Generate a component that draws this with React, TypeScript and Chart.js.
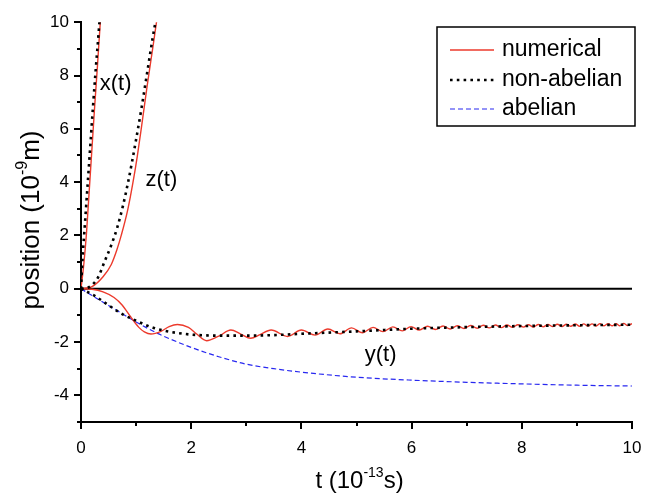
import { useEffect, useRef } from 'react';
import { Chart, registerables } from 'chart.js';

Chart.register(...registerables);

const FONT = '"Liberation Sans", Arial, Helvetica, sans-serif';

// t (10^-13 s) , position (10^-9 m)
const numericalX: [number, number][] = [
  [0, 0], [0.05, 0.9], [0.1, 2.1], [0.15, 3.7], [0.2, 5.3], [0.25, 6.9], [0.3, 8.4], [0.35, 10.0], [0.4, 11.5],
];
const numericalZ: [number, number][] = [
  [0, 0], [0.2, 0.08], [0.4, 0.45], [0.55, 0.91], [0.65, 1.45], [0.73, 2.0], [0.85, 2.98], [0.94, 3.95],
  [1.02, 4.95], [1.1, 6.1], [1.2, 7.6], [1.3, 9.0], [1.37, 10.0], [1.45, 11.1],
];
const numericalY: [number, number][] = [
  [0, 0], [0.2, -0.02], [0.4, -0.12], [0.6, -0.33], [0.75, -0.62], [0.9, -1.05], [1.05, -1.45], [1.15, -1.62],
  [1.27, -1.7], [1.45, -1.6], [1.6, -1.42], [1.75, -1.34], [1.95, -1.45], [2.1, -1.7], [2.28, -1.95],
  [2.5, -1.78], [2.72, -1.55], [2.9, -1.7], [3.08, -1.86], [3.25, -1.72], [3.45, -1.55], [3.75, -1.79],
  [4.0, -1.55], [4.25, -1.74], [4.48, -1.51], [4.7, -1.69], [4.91, -1.47], [5.11, -1.65], [5.3, -1.45],
  [5.48, -1.61], [5.66, -1.43], [5.83, -1.58], [5.99, -1.42], [6.14, -1.55], [6.29, -1.41], [6.43, -1.53],
  [6.57, -1.4], [6.7, -1.51], [6.83, -1.39], [6.95, -1.49], [7.07, -1.38], [7.19, -1.48], [7.3, -1.37],
  [7.41, -1.47], [7.52, -1.36], [7.63, -1.46], [7.73, -1.36], [7.83, -1.45], [7.93, -1.35], [8.03, -1.44],
  [8.12, -1.35], [8.21, -1.44], [8.3, -1.34], [8.39, -1.43], [8.475, -1.34], [8.56, -1.42], [8.645, -1.33],
  [8.73, -1.42], [8.81, -1.33], [8.89, -1.41], [8.97, -1.32], [9.05, -1.41], [9.125, -1.32], [9.2, -1.4],
  [9.275, -1.32], [9.35, -1.4], [9.42, -1.31], [9.49, -1.39], [9.565, -1.31], [9.64, -1.39], [9.71, -1.31],
  [9.78, -1.39], [9.85, -1.3], [9.92, -1.38], [10, -1.31],
];
const nonAbelianX: [number, number][] = [
  [0, 0], [0.03, 1.2], [0.07, 2.4], [0.12, 3.9], [0.17, 5.4], [0.22, 6.9], [0.27, 8.3], [0.32, 9.6], [0.36, 10.7],
];
const nonAbelianZ: [number, number][] = [
  [0, 0], [0.1, 0.02], [0.19, 0.12], [0.31, 0.43], [0.43, 1.03], [0.55, 1.64], [0.66, 2.31], [0.76, 3.1],
  [0.85, 3.95], [0.93, 4.8], [1.0, 5.6], [1.1, 6.8], [1.2, 8.1], [1.3, 9.4], [1.35, 10.0], [1.42, 10.9],
];
const nonAbelianY: [number, number][] = [
  [0, 0], [0.25, -0.27], [0.5, -0.62], [0.75, -0.95], [1.0, -1.2], [1.25, -1.42], [1.5, -1.57], [1.75, -1.66],
  [2.0, -1.72], [2.5, -1.76], [3.0, -1.76], [3.5, -1.74], [4.0, -1.69], [5.0, -1.6], [6.0, -1.5], [7.0, -1.44],
  [8.0, -1.4], [9.0, -1.37], [10, -1.35],
];
const abelianY: [number, number][] = [
  [0, 0], [0.25, -0.32], [0.5, -0.63], [0.75, -0.94], [1.0, -1.25], [1.25, -1.53], [1.5, -1.78], [2.0, -2.2],
  [2.5, -2.55], [3.0, -2.83], [3.5, -3.0], [4.0, -3.13], [5.0, -3.32], [6.0, -3.43], [7.0, -3.51], [8.0, -3.57],
  [9.0, -3.62], [10, -3.65],
];

const legendLabels = ['numerical', 'non-abelian', 'abelian'];
const curveLabels: { text: string; t: number; v: number }[] = [
  { text: 'x(t)', t: 0.34, v: 7.7 },
  { text: 'z(t)', t: 1.17, v: 4.1 },
  { text: 'y(t)', t: 5.15, v: -2.48 },
];

const RED = 'rgb(236,58,44)';
const BLACK = '#000';
const BLUE = 'rgb(40,40,240)';

const toXY = (arr: [number, number][]) => arr.map(([x, y]) => ({ x, y }));

function drawParts(ctx: CanvasRenderingContext2D, parts: { t: string; sup: boolean }[], size: number) {
  const supSize = Math.round(size * 0.6);
  let w = 0;
  for (const p of parts) {
    ctx.font = `${p.sup ? supSize : size}px ${FONT}`;
    w += ctx.measureText(p.t).width;
  }
  let x = -w / 2;
  ctx.textAlign = 'left';
  ctx.textBaseline = 'alphabetic';
  for (const p of parts) {
    ctx.font = `${p.sup ? supSize : size}px ${FONT}`;
    ctx.fillText(p.t, x, p.sup ? -size * 0.45 : 0);
    x += ctx.measureText(p.t).width;
  }
}

const decorPlugin = {
  id: 'decor',
  beforeDatasetsDraw(chart: any) {
    const { ctx, chartArea, scales } = chart;
    const y0 = scales.y.getPixelForValue(0);
    ctx.save();
    ctx.strokeStyle = '#000';
    ctx.lineWidth = 2;
    ctx.beginPath();
    ctx.moveTo(chartArea.left, y0);
    ctx.lineTo(chartArea.right, y0);
    ctx.stroke();
    ctx.restore();
  },
  afterDraw(chart: any) {
    const { ctx, chartArea, scales } = chart;
    ctx.save();
    ctx.strokeStyle = '#000';
    ctx.fillStyle = '#000';
    ctx.lineWidth = 2;
    // tick marks
    ctx.beginPath();
    for (let v = -5; v <= 10; v++) {
      const py = Math.round(scales.y.getPixelForValue(v));
      const len = v % 2 === 0 ? 7 : 4;
      ctx.moveTo(chartArea.left, py);
      ctx.lineTo(chartArea.left - len, py);
    }
    for (let v = 0; v <= 10; v++) {
      const px = Math.round(scales.x.getPixelForValue(v));
      const len = v % 2 === 0 ? 7 : 4;
      ctx.moveTo(px, chartArea.bottom);
      ctx.lineTo(px, chartArea.bottom + len);
    }
    ctx.stroke();

    // axis titles
    ctx.save();
    ctx.translate((chartArea.left + chartArea.right) / 2 + 3, 488);
    drawParts(ctx, [{ t: 't (10', sup: false }, { t: '-13', sup: true }, { t: 's)', sup: false }], 24);
    ctx.restore();
    ctx.save();
    ctx.translate(39, 220);
    ctx.rotate(-Math.PI / 2);
    drawParts(ctx, [{ t: 'position (10', sup: false }, { t: '-9', sup: true }, { t: 'm)', sup: false }], 26);
    ctx.restore();

    // curve labels
    ctx.font = `22px ${FONT}`;
    ctx.textAlign = 'left';
    ctx.textBaseline = 'middle';
    for (const c of curveLabels) {
      ctx.fillText(c.text, scales.x.getPixelForValue(c.t), scales.y.getPixelForValue(c.v));
    }

    // legend box
    const bx = 437, by = 27, bw = 198, bh = 99;
    ctx.lineWidth = 1.5;
    ctx.strokeRect(bx, by, bw, bh);
    const rows = [50, 80, 109];
    legendLabels.forEach((lab, i) => {
      const ds = chart.data.datasets.find((d: any) => d.label === lab);
      const y = rows[i];
      ctx.save();
      ctx.strokeStyle = ds.borderColor;
      ctx.lineWidth = ds.borderWidth;
      ctx.setLineDash(ds.borderDash || []);
      ctx.beginPath();
      ctx.moveTo(450, y);
      ctx.lineTo(494, y);
      ctx.stroke();
      ctx.restore();
      ctx.font = `23px ${FONT}`;
      ctx.textBaseline = 'middle';
      ctx.fillStyle = '#000';
      ctx.fillText(lab, 502, y);
    });
    ctx.restore();
  },
};

export default function App() {
  const ref = useRef<HTMLCanvasElement>(null);
  useEffect(() => {
    document.body.style.margin = '0';
    const red = { borderColor: RED, borderWidth: 1.4, pointRadius: 0, cubicInterpolationMode: 'monotone' as const };
    const dot = {
      borderColor: BLACK, borderWidth: 2.6, borderDash: [2.6, 4.2], pointRadius: 0,
      cubicInterpolationMode: 'monotone' as const,
    };
    const blue = {
      borderColor: BLUE, borderWidth: 1.2, borderDash: [5, 3], pointRadius: 0,
      cubicInterpolationMode: 'monotone' as const,
    };
    const chart = new Chart(ref.current!, {
      type: 'line',
      data: {
        datasets: [
          { label: 'non-abelian', data: toXY(nonAbelianX), ...dot },
          { label: 'non-abelian y', data: toXY(nonAbelianY), ...dot },
          { label: 'non-abelian z', data: toXY(nonAbelianZ), ...dot },
          { label: 'numerical', data: toXY(numericalX), ...red },
          { label: 'numerical y', data: toXY(numericalY), ...red },
          { label: 'numerical z', data: toXY(numericalZ), ...red },
          { label: 'abelian', data: toXY(abelianY), ...blue },
        ] as any,
      },
      options: {
        animation: false,
        responsive: false,
        layout: { padding: { left: 0, top: 11, right: 33, bottom: 0 } },
        plugins: { legend: { display: false }, tooltip: { enabled: false } },
        scales: {
          x: {
            type: 'linear',
            min: 0,
            max: 10,
            afterFit: (s: any) => { s.height = 75; },
            grid: { display: true, drawOnChartArea: false, drawTicks: false },
            border: { display: true, color: '#000', width: 2 },
            ticks: {
              stepSize: 1,
              autoSkip: false,
              maxRotation: 0,
              padding: 16,
              color: '#000',
              font: { family: FONT, size: 17 },
              callback: (v: any) => (Number(v) % 2 === 0 ? String(v) : ''),
            },
          },
          y: {
            type: 'linear',
            min: -5,
            max: 10,
            afterFit: (s: any) => { s.width = 81; },
            grid: { display: true, drawOnChartArea: false, drawTicks: false },
            border: { display: true, color: '#000', width: 2 },
            ticks: {
              stepSize: 1,
              autoSkip: false,
              padding: 12,
              color: '#000',
              font: { family: FONT, size: 17 },
              callback: (v: any) => (Number(v) % 2 === 0 ? String(v) : ''),
            },
          },
        },
      } as any,
      plugins: [decorPlugin],
    });
    return () => chart.destroy();
  }, []);
  return (
    <div style={{ position: 'absolute', left: 0, top: 0, width: 665, height: 497, background: '#fff' }}>
      <canvas ref={ref} width={665} height={497} />
    </div>
  );
}
